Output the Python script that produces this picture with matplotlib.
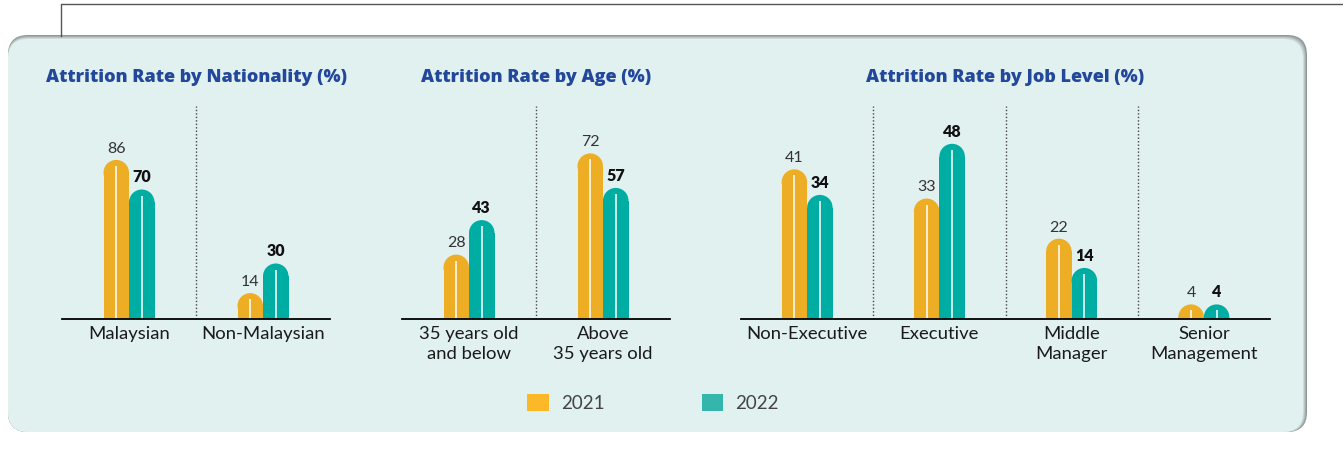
import numpy as np
import matplotlib
matplotlib.use("Agg")
import matplotlib.pyplot as plt
from matplotlib.patches import Ellipse, FancyBboxPatch, Patch

plt.rcParams['font.family'] = ['Lato', 'DejaVu Sans']

# data
nat_labels = ['Malaysian', 'Non-Malaysian']
nat_2021 = [86, 14]
nat_2022 = [70, 30]

age_labels = ['35 years old\nand below', 'Above\n35 years old']
age_2021 = [28, 72]
age_2022 = [43, 57]

job_labels = ['Non-Executive', 'Executive', 'Middle\nManager', 'Senior\nManagement']
job_2021 = [41, 33, 22, 4]
job_2022 = [34, 48, 14, 4]

titles = ['Attrition Rate by Nationality (%)', 'Attrition Rate by Age (%)',
          'Attrition Rate by Job Level (%)']
years = ['2021', '2022']

C21, C22 = '#edae25', '#00ada3'
LEG21, LEG22 = '#fdb827', '#35b6ad'
PANEL = '#e1f1f0'
TITLE_C = '#23479b'

W, H = 1343, 451
fig = plt.figure(figsize=(W / 100, H / 100), dpi=100)

# background: framing line + rounded panel with a soft edge
bg = fig.add_axes([0, 0, 1, 1], zorder=0)
bg.set_xlim(0, W)
bg.set_ylim(H, 0)
bg.axis('off')
bg.plot([61, 61, W], [36, 4, 4], color='#555555', lw=1)
shades = ['#8c9897', '#a3aeae', '#bac6c5', '#cfdcdb', PANEL]
for i, c in enumerate(shades):
    bg.add_patch(FancyBboxPatch((8, 35 + i), 1299 - i, 397 - i,
                                boxstyle='round,pad=0,rounding_size=20',
                                fc=c, ec='none'))

AX_TOP, BASE = 106, 319


def px_axes(x0, x1):
    return fig.add_axes([x0 / W, 1 - BASE / H, (x1 - x0) / W, (BASE - AX_TOP) / H], zorder=2)


def draw_panel(ax, labels, v21, v22, px_per_val, title):
    n = len(labels)
    x = np.arange(n)
    cell_px = ax.get_position().width * W / n
    ax.set_xlim(-0.5, n - 0.5)
    ax.set_ylim(0, (BASE - AX_TOP) / px_per_val)
    ax.patch.set_alpha(0)
    w = 25.5 / cell_px
    r = 12.75 / px_per_val
    for sign, vals, col, weight, tc in [(-1, v21, C21, 'normal', '#333333'),
                                        (1, v22, C22, 'heavy', '#111111')]:
        xs = x + sign * w / 2
        vals = np.array(vals, dtype=float)
        ax.bar(xs, vals - r, width=w, color=col, linewidth=0)
        for xi, v in zip(xs, vals):
            ax.add_patch(Ellipse((xi, v - r), w, 2 * r, color=col, lw=0))
            ax.plot([xi, xi], [0, v - 6 / px_per_val], color='white', lw=1.1,
                    solid_capstyle='butt')
            ax.annotate(f'{v:.0f}', (xi, v), xytext=(0, 3), textcoords='offset points',
                        ha='center', va='bottom', fontsize=11.5, fontweight=weight, color=tc)
    ax.vlines(x[:-1] + 0.5, 0, ax.get_ylim()[1], colors='#444444', lw=1,
              linestyles=(0, (1, 1.5)))
    ax.axhline(0, color='black', lw=1.3, clip_on=False)
    ax.set_xticks(x, labels)
    ax.set_yticks([])
    ax.tick_params(axis='x', length=0, pad=5, labelsize=13.3, labelcolor='#1a1a1a')
    for lab in ax.get_xticklabels():
        lab.set_linespacing(1.35)
    for s in ax.spines.values():
        s.set_visible(False)
    pos = ax.get_position()
    cx = (pos.x0 + pos.width / 2) * W
    bg.text(cx, 77, title, ha='center', va='center', fontsize=13,
            fontweight='heavy', color=TITLE_C, family=['Open Sans', 'DejaVu Sans'])


ax1 = px_axes(62, 330)
draw_panel(ax1, nat_labels, nat_2021, nat_2022, 1.85, titles[0])
ax2 = px_axes(402, 670)
draw_panel(ax2, age_labels, age_2021, age_2022, 2.3, titles[1])
ax3 = px_axes(741, 1270)
draw_panel(ax3, job_labels, job_2021, job_2022, 3.65, titles[2])

handles = [Patch(color=LEG21, lw=0), Patch(color=LEG22, lw=0)]
leg = fig.legend(handles, years, loc='center', bbox_to_anchor=(653 / W, 1 - 403 / H),
                 ncol=2, frameon=False, fontsize=13.5, handlelength=1.15, handleheight=1.05,
                 handletextpad=0.65, columnspacing=5.2, borderpad=0)
for t in leg.get_texts():
    t.set_color('#444444')

fig.savefig('out.png', dpi=100)
